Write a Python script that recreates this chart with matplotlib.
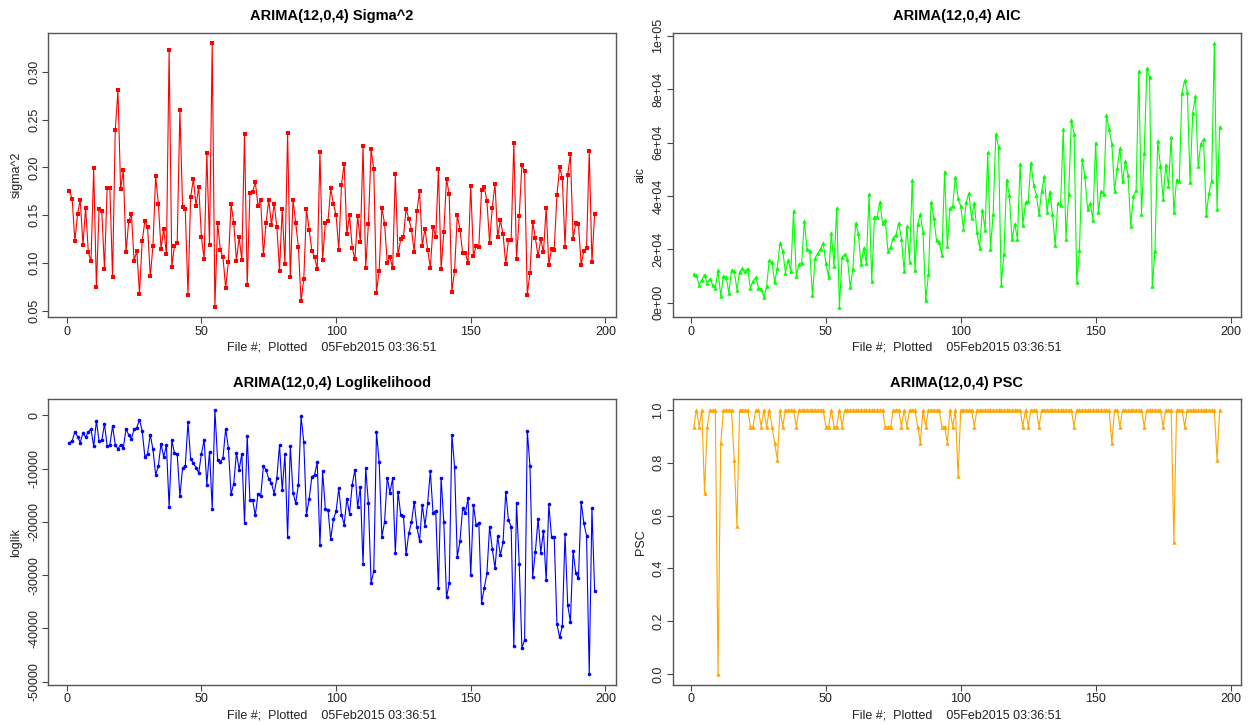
import numpy as np
import matplotlib
matplotlib.use("Agg")
import matplotlib.pyplot as plt

plt.rcParams['font.family'] = ['Liberation Sans', 'DejaVu Sans']

# -------------------------
# Model fit statistics, one value per file
# -------------------------

sigma2 = [0.175, 0.167, 0.123, 0.151, 0.166, 0.119, 0.158, 0.111, 0.102, 0.199,
          0.075, 0.157, 0.154, 0.094, 0.179, 0.179, 0.085, 0.239, 0.281, 0.177,
          0.197, 0.111, 0.144, 0.151, 0.102, 0.113, 0.068, 0.123, 0.144, 0.138,
          0.086, 0.118, 0.191, 0.162, 0.115, 0.136, 0.109, 0.323, 0.096, 0.118,
          0.121, 0.260, 0.159, 0.156, 0.067, 0.169, 0.188, 0.160, 0.180, 0.127,
          0.104, 0.215, 0.119, 0.330, 0.054, 0.142, 0.114, 0.106, 0.074, 0.101,
          0.162, 0.142, 0.102, 0.127, 0.103, 0.235, 0.077, 0.173, 0.174, 0.185,
          0.160, 0.166, 0.108, 0.142, 0.166, 0.140, 0.162, 0.138, 0.092, 0.157,
          0.099, 0.236, 0.085, 0.166, 0.142, 0.117, 0.060, 0.083, 0.156, 0.135,
          0.113, 0.106, 0.094, 0.216, 0.103, 0.142, 0.144, 0.178, 0.162, 0.150,
          0.114, 0.182, 0.204, 0.130, 0.150, 0.116, 0.104, 0.149, 0.122, 0.222,
          0.095, 0.141, 0.219, 0.198, 0.069, 0.092, 0.158, 0.141, 0.100, 0.106,
          0.095, 0.193, 0.108, 0.125, 0.127, 0.157, 0.146, 0.135, 0.112, 0.154,
          0.175, 0.118, 0.136, 0.114, 0.095, 0.138, 0.127, 0.198, 0.094, 0.132,
          0.188, 0.172, 0.070, 0.092, 0.150, 0.135, 0.110, 0.110, 0.100, 0.181,
          0.107, 0.118, 0.117, 0.176, 0.180, 0.165, 0.121, 0.158, 0.183, 0.127,
          0.145, 0.130, 0.099, 0.124, 0.124, 0.226, 0.104, 0.149, 0.203, 0.196,
          0.067, 0.090, 0.143, 0.126, 0.107, 0.125, 0.111, 0.158, 0.098, 0.115,
          0.114, 0.171, 0.200, 0.189, 0.117, 0.192, 0.214, 0.125, 0.142, 0.141,
          0.098, 0.113, 0.116, 0.217, 0.101, 0.151]

aic = [10700, 10200, 6700, 8600, 10500, 7300, 9000, 6600, 5600, 12100,
       2500, 10000, 9700, 3700, 12100, 12000, 4900, 11500, 12800, 11800,
       12700, 5400, 8100, 9500, 5600, 5200, 2100, 6100, 15800, 15200,
       7600, 13100, 22500, 19300, 11300, 16100, 11800, 34500, 10000, 14400,
       14900, 30500, 20000, 19500, 2700, 16700, 18500, 20200, 22400, 14700,
       9600, 26100, 13800, 35400, -1600, 17100, 18100, 16200, 5900, 12600,
       29800, 26000, 14300, 20500, 14900, 40700, 8100, 32200, 32200, 37800,
       29900, 30800, 19500, 20800, 24300, 25500, 29800, 23900, 11800, 28600,
       15300, 46100, 12100, 29300, 33100, 26300, 900, 10600, 37700, 31700,
       23400, 22700, 17900, 49100, 21200, 35400, 36100, 47200, 39100, 36100,
       27500, 37600, 41100, 31700, 37500, 26300, 20500, 34900, 27300, 56300,
       20000, 33400, 63200, 58400, 6700, 18300, 46100, 40200, 23700, 29500,
       23900, 52000, 29000, 37600, 38200, 52500, 44200, 40500, 33100, 42000,
       47300, 34000, 41600, 33100, 21500, 37400, 36500, 65000, 23900, 40600,
       68500, 63100, 7800, 19700, 53700, 47300, 35200, 37200, 31100, 60000,
       33900, 41700, 40700, 70300, 65000, 59600, 42000, 50400, 57900, 45400,
       53000, 47900, 28900, 39800, 42200, 86800, 33100, 56100, 87800, 84400,
       6100, 19500, 60600, 51300, 39000, 51700, 43600, 62100, 33900, 46100,
       45400, 78600, 83300, 79100, 45100, 71200, 77400, 51200, 59600, 61300,
       32900, 41000, 45700, 97200, 35100, 65900]

loglik = [-5100, -4800, -3100, -4000, -5100, -3300, -4100, -3100, -2600, -5800,
          -1000, -4900, -4700, -1600, -5800, -5600, -2000, -5500, -6300, -5500,
          -6100, -2500, -3700, -4400, -2600, -2300, -800, -2900, -7800, -7200,
          -3600, -6400, -11200, -9500, -5300, -7800, -5600, -17200, -4700, -7100,
          -7200, -15200, -9900, -9500, -1300, -8200, -9000, -9800, -10800, -7200,
          -4600, -13000, -6800, -17500, 1000, -8300, -8800, -8000, -2500, -6100,
          -14800, -12800, -7000, -10200, -7200, -20200, -3800, -15900, -15900, -18800,
          -14800, -15200, -9600, -10200, -12000, -12700, -14700, -11800, -5600, -14100,
          -7300, -22800, -5800, -14500, -16500, -13000, -200, -5000, -18700, -15700,
          -11500, -11200, -8800, -24400, -10500, -17500, -17700, -23300, -19500, -18000,
          -13700, -18700, -20500, -15700, -18500, -13000, -10200, -17300, -13500, -28000,
          -9900, -16500, -31500, -29200, -3200, -8800, -22800, -20000, -11700, -14500,
          -11800, -25900, -14300, -18700, -18900, -26100, -22100, -20100, -16200, -20900,
          -23600, -16800, -20700, -16500, -10500, -18400, -17900, -32500, -11800, -20100,
          -34200, -31500, -3600, -9700, -26600, -23600, -17400, -18400, -15500, -30000,
          -16800, -20600, -20200, -35200, -32500, -29700, -20900, -25100, -28700, -22700,
          -26300, -23800, -14300, -19700, -20900, -43400, -16400, -27900, -43700, -42200,
          -2900, -9600, -30300, -25600, -19400, -25800, -21700, -31000, -16700, -22900,
          -22800, -39200, -41700, -39600, -22300, -35600, -38800, -25400, -29700, -30600,
          -16200, -20300, -22600, -48600, -17400, -33000]

psc = [0.9375, 1, 0.9375, 1, 0.6875, 0.9375, 1, 1, 1, 0.0,
       0.875, 1, 1, 1, 1, 0.8125, 0.5625, 1, 1, 1,
       1, 0.9375, 0.9375, 1, 1, 0.9375, 1, 0.9375, 1, 0.9375,
       0.875, 0.8125, 1, 0.9375, 1, 1, 1, 1, 0.9375, 1,
       1, 1, 1, 1, 1, 1, 1, 1, 1, 0.9375,
       0.9375, 1, 0.9375, 0.9375, 1, 0.9375, 1, 1, 1, 1,
       1, 1, 1, 1, 1, 1, 1, 1, 1, 1,
       1, 0.9375, 0.9375, 0.9375, 1, 1, 1, 0.9375, 1, 0.9375,
       1, 1, 1, 0.9375, 0.875, 1, 0.9375, 1, 1, 1,
       1, 1, 0.9375, 0.9375, 0.875, 1, 0.9375, 1, 0.75, 1,
       1, 1, 1, 1, 0.9375, 1, 1, 1, 1, 1,
       1, 1, 1, 1, 1, 1, 1, 1, 1, 1,
       1, 1, 0.9375, 1, 0.9375, 1, 1, 1, 0.9375, 1,
       1, 1, 1, 1, 1, 1, 1, 1, 1, 1,
       1, 0.9375, 1, 1, 1, 1, 1, 1, 1, 1,
       1, 1, 1, 1, 1, 0.875, 1, 1, 0.9375, 1,
       1, 1, 1, 1, 1, 1, 1, 0.9375, 1, 1,
       1, 1, 1, 1, 0.9375, 1, 1, 1, 0.5, 1,
       1, 1, 0.9375, 1, 1, 1, 1, 1, 1, 1,
       1, 1, 1, 1, 0.8125, 1]

x_ticks = [0, 50, 100, 150, 200]
xlabel_text = "File #;  Plotted    05Feb2015 03:36:51"

# -------------------------
# Helper
# -------------------------

def draw_panel(ax, values, color, marker, msize, title, ylabel, yticks, yticklabels):
    x = np.arange(1, len(values) + 1)
    ax.plot(x, values, color=color, lw=0.8, marker=marker, ms=msize, mew=0)
    # R-style 4% padding on both axes
    xpad = 0.04 * (x[-1] - x[0])
    ax.set_xlim(x[0] - xpad, x[-1] + xpad)
    lo, hi = min(values), max(values)
    ypad = 0.04 * (hi - lo)
    ax.set_ylim(lo - ypad, hi + ypad)
    ax.set_xticks(x_ticks)
    ax.set_xticklabels([str(t) for t in x_ticks])
    ax.set_yticks(yticks)
    ax.set_yticklabels(yticklabels, rotation=90, va='center')
    ax.tick_params(direction='out', length=4, width=0.8, colors='#444444',
                   labelcolor='#222222', labelsize=9, pad=2)
    for s in ax.spines.values():
        s.set_color('#555555')
        s.set_linewidth(1.0)
    ax.set_title(title, fontsize=10.5, fontweight='bold', pad=9)
    ax.set_xlabel(xlabel_text, fontsize=9, labelpad=3, color='#222222')
    ax.set_ylabel(ylabel, fontsize=9, labelpad=4, color='#222222')


fig = plt.figure(figsize=(12.49, 7.25), dpi=100)

ax1 = fig.add_axes([0.0388, 0.5621, 0.4541, 0.3928])
ax2 = fig.add_axes([0.5386, 0.5621, 0.4548, 0.3928])
ax3 = fig.add_axes([0.0388, 0.0556, 0.4541, 0.3934])
ax4 = fig.add_axes([0.5386, 0.0556, 0.4548, 0.3934])

draw_panel(ax1, sigma2, '#FF0000', 's', 3.0, "ARIMA(12,0,4) Sigma^2", "sigma^2",
           [0.05, 0.10, 0.15, 0.20, 0.25, 0.30],
           ["0.05", "0.10", "0.15", "0.20", "0.25", "0.30"])
draw_panel(ax2, aic, '#00FF00', '^', 3.2, "ARIMA(12,0,4) AIC", "aic",
           [0, 20000, 40000, 60000, 80000, 100000],
           ["0e+00", "2e+04", "4e+04", "6e+04", "8e+04", "1e+05"])
draw_panel(ax3, loglik, '#0000FF', 'o', 2.6, "ARIMA(12,0,4) Loglikelihood", "loglik",
           [0, -10000, -20000, -30000, -40000, -50000],
           ["0", "-10000", "-20000", "-30000", "-40000", "-50000"])
draw_panel(ax4, psc, '#FFA500', '^', 3.2, "ARIMA(12,0,4) PSC", "PSC",
           [0.0, 0.2, 0.4, 0.6, 0.8, 1.0],
           ["0.0", "0.2", "0.4", "0.6", "0.8", "1.0"])

fig.savefig("out.png", dpi=100)
plt.close(fig)
